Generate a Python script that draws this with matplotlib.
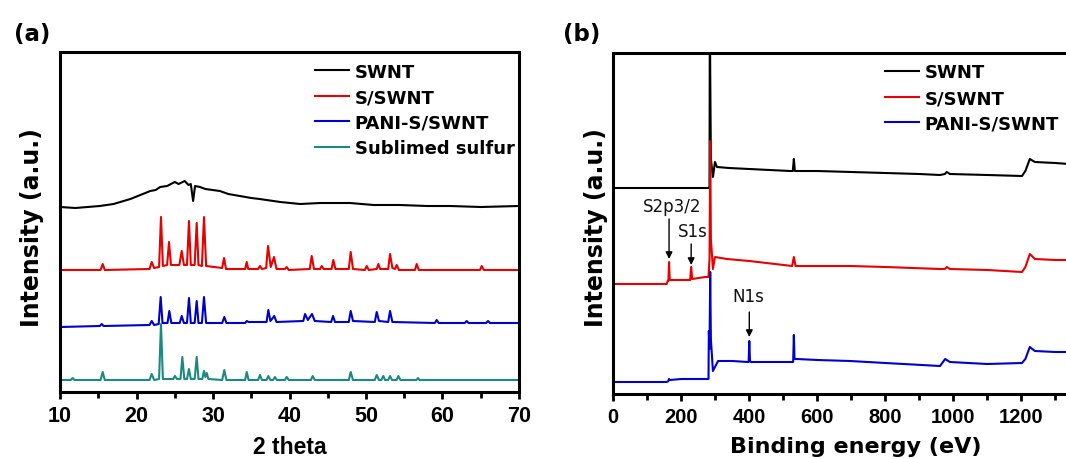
import matplotlib
matplotlib.use("Agg")
import matplotlib.pyplot as plt
from matplotlib.ticker import MultipleLocator, FixedLocator

plt.rcParams['font.family'] = ['Liberation Sans', 'DejaVu Sans']
plt.rcParams['font.weight'] = 'bold'

# ---------------- Panel (a): XRD ----------------
xrd_labels = ["SWNT", "S/SWNT", "PANI-S/SWNT", "Sublimed sulfur"]
xrd_colors = ["#000000", "#e60000", "#0000cc", "#1a8a80"]

swnt_x = [10.0, 12.0, 15.2, 17.0, 19.2, 20.5, 21.8, 22.5, 23.1, 24.0, 25.0, 25.5, 26.3, 26.8,
          27.1, 27.4, 27.65, 28.3, 29.0, 30.9, 32.0, 33.5, 35.0, 36.1, 38.8, 41.4, 44.0,
          47.9, 51.0, 54.4, 58.0, 61.0, 65.0, 70.0]
swnt_y = [192, 191, 193, 195, 200, 204, 208, 209, 212, 213, 217, 215, 218, 214,
          215, 198, 213, 212, 210, 208, 205, 203, 201, 200, 197, 195, 196,
          196, 194, 194, 193, 193, 192, 193]

s_swnt_x = [10, 15.3, 15.58, 15.85, 21.7, 21.99, 22.3, 22.95, 23.2, 23.45, 24.0, 24.25, 24.5,
            25.6, 25.91, 26.2, 26.6, 26.86, 27.1, 27.6, 27.87, 28.1, 28.55, 28.82, 29.1,
            31.2, 31.44, 31.7, 34.2, 34.41, 34.6, 35.9, 36.14, 36.4, 36.95, 37.19, 37.55,
            37.97, 38.3, 39.4, 39.63, 39.9, 42.65, 42.9, 43.2, 44.0, 44.21, 44.45, 45.5,
            45.73, 46.0, 47.75, 48.0, 48.3, 49.85, 50.09, 50.35, 51.4, 51.61, 51.85, 52.9,
            53.14, 53.45, 53.8, 54.01, 54.3, 56.4, 56.63, 56.9, 64.9, 65.12, 65.4, 70]
s_swnt_y = [129, 129, 135, 129, 130, 137, 131, 132, 182, 133, 134, 157, 134,
            134, 148, 134, 134, 178, 134, 134, 176, 134, 133, 182, 133,
            131, 141, 130, 130, 137, 130, 130, 133, 130, 131, 153, 132,
            142, 130, 130, 132, 129, 130, 143, 130, 130, 133, 130, 130,
            139, 130, 130, 147, 130, 129, 133, 129, 130, 135, 130, 130,
            145, 131, 130, 134, 129, 129, 135, 129, 129, 133, 129, 129]

pani_x = [10, 15.2, 15.45, 15.7, 21.7, 21.99, 22.3, 22.9, 23.16, 23.4, 24.05, 24.29, 24.55,
          25.65, 25.91, 26.2, 26.6, 26.86, 27.1, 27.6, 27.87, 28.1, 28.55, 28.82, 29.1,
          31.2, 31.48, 31.75, 34.2, 34.41, 34.65, 37.0, 37.23, 37.5, 38.01, 38.3, 41.8,
          42.03, 42.4, 42.94, 43.3, 45.45, 45.69, 45.95, 47.75, 48.0, 48.3, 51.15, 51.4,
          51.7, 52.9, 53.14, 53.45, 59.0, 59.24, 59.5, 62.9, 63.16, 63.4, 65.7, 65.95,
          66.2, 70]
pani_y = [72, 73, 75, 73, 74, 78, 74, 75, 102, 76, 76, 88, 76,
          76, 83, 76, 76, 101, 76, 76, 98, 76, 76, 102, 76,
          76, 82, 76, 76, 78, 77, 77, 89, 78, 83, 77, 78,
          85, 79, 85, 78, 77, 83, 77, 77, 88, 78, 77, 87,
          78, 77, 88, 77, 76, 79, 76, 76, 78, 76, 76, 78,
          76, 76]

sulfur_x = [10, 11.4, 11.66, 11.9, 15.3, 15.58, 15.85, 21.7, 21.99, 22.3, 22.95, 23.2, 23.45,
            24.8, 25.03, 25.3, 25.75, 25.99, 26.25, 26.6, 26.86, 27.1, 27.6, 27.87, 28.1,
            28.6, 28.82, 29.0, 29.18, 29.4, 31.2, 31.48, 31.75, 34.2, 34.41, 34.65, 35.9,
            36.14, 36.4, 37.0, 37.23, 37.5, 37.85, 38.1, 38.35, 39.4, 39.63, 39.9, 42.8,
            43.03, 43.3, 47.75, 48.0, 48.3, 51.15, 51.4, 51.7, 52.0, 52.26, 52.5, 52.9,
            53.14, 53.4, 54.0, 54.23, 54.5, 56.6, 56.8, 57.0, 70]
sulfur_y = [19, 19, 21, 19, 19, 27, 19, 19, 25, 19, 20, 75, 20,
            20, 23, 20, 20, 42, 20, 20, 30, 20, 20, 42, 20,
            20, 28, 22, 26, 20, 19, 29, 19, 19, 27, 19, 19,
            24, 19, 19, 23, 19, 19, 22, 19, 19, 22, 19, 19,
            23, 19, 19, 27, 19, 19, 24, 19, 19, 23, 19, 19,
            23, 19, 19, 23, 19, 19, 21, 19, 19]

xrd_x = [swnt_x, s_swnt_x, pani_x, sulfur_x]
xrd_y = [swnt_y, s_swnt_y, pani_y, sulfur_y]
xrd_ticks = [10, 20, 30, 40, 50, 60, 70]

# ---------------- Panel (b): XPS ----------------
xps_labels = ["SWNT", "S/SWNT", "PANI-S/SWNT"]
xps_colors = ["#000000", "#e60000", "#0000cc"]

xps_swnt_x = [0, 150, 280, 283, 284, 285, 287, 293, 299, 305, 340, 400, 520, 528, 531, 534,
              600, 700, 800, 900, 961, 975, 981, 990, 1100, 1202, 1212, 1225, 1240, 1300, 1340]
xps_swnt_y = [211, 211, 211, 212, 420, 330, 240, 222, 237, 232, 231, 230, 228, 228, 240, 228,
              228, 227, 226, 225, 224, 225, 227, 225, 224, 223, 228, 240, 237, 236, 235]

xps_s_x = [0, 157, 160, 162, 164, 166, 200, 226, 229, 232, 270, 280, 283, 285, 287, 293, 299,
           334, 400, 526, 531, 536, 696, 800, 961, 975, 981, 990, 1100, 1202, 1212, 1225, 1240,
           1300, 1340]
xps_s_y = [115, 115, 118, 118, 137, 119, 119, 119, 132, 120, 122, 122, 140, 258, 160, 130, 142,
           140, 138, 133, 142, 133, 133, 132, 130, 130, 132, 130, 129, 127, 132, 145, 140,
           139, 139]

xps_pani_x = [0, 157, 162, 164, 166, 200, 280, 281, 283, 285, 287, 293, 308, 350, 395, 398,
              400, 402, 405, 500, 526, 529, 531, 533, 540, 600, 696, 800, 961, 976, 990, 1100,
              1202, 1212, 1225, 1240, 1300, 1340]
xps_pani_y = [17, 17, 18, 20, 19, 20, 20, 68, 50, 127, 60, 28, 38, 38, 37, 37,
              58, 38, 37, 37, 37, 37, 64, 40, 40, 39, 38, 36, 33, 40, 37, 35,
              36, 40, 52, 48, 47, 47]

xps_x = [xps_swnt_x, xps_s_x, xps_pani_x]
xps_y = [xps_swnt_y, xps_s_y, xps_pani_y]
xps_ticks = [0, 200, 400, 600, 800, 1000, 1200]
xps_minor = [100, 300, 500, 700, 900, 1100, 1300]

peak_labels = ["S2p3/2", "S1s", "N1s"]
peak_energy = [164, 229, 400]
peak_tip = [140, 134, 62]
peak_tail = [180, 155, 87]
peak_text_y = [193, 168, 103]
peak_text_x = [173, 233, 396]

# ---------------- Figure ----------------
W, H = 1066, 460
fig = plt.figure(figsize=(W / 100, H / 100), dpi=100)

ax1 = fig.add_axes([60 / W, (H - 393) / H, 459 / W, 340 / H])
ax2 = fig.add_axes([613.3 / W, (H - 395) / H, 476 / W, 341 / H])

for xs, ys, c, lab in zip(xrd_x, xrd_y, xrd_colors, xrd_labels):
    ax1.plot(xs, ys, color=c, lw=1.5, label=lab)
ax1.set_xlim(10, 70)
ax1.set_ylim(7, 347)

for xs, ys, c, lab in zip(xps_x, xps_y, xps_colors, xps_labels):
    ax2.plot(xs, ys, color=c, lw=1.5, label=lab)
ax2.set_xlim(0, 1400)
ax2.set_ylim(5, 346)

for e, tip, tail, ty, tx, lab in zip(peak_energy, peak_tip, peak_tail, peak_text_y,
                                     peak_text_x, peak_labels):
    ax2.annotate("", xy=(e, tip), xytext=(e, tail),
                 arrowprops=dict(arrowstyle='-|>', color='black', lw=1.0,
                                 mutation_scale=10, shrinkA=0, shrinkB=0))
    ax2.text(tx, ty, lab, ha='center', va='center', fontsize=12,
             fontweight='normal', color='#111111', family=['DejaVu Sans'])

ax1.xaxis.set_major_locator(FixedLocator(xrd_ticks))
ax1.xaxis.set_minor_locator(MultipleLocator(5))
ax2.xaxis.set_major_locator(FixedLocator(xps_ticks))
ax2.xaxis.set_minor_locator(FixedLocator(xps_minor))

for ax in (ax1, ax2):
    for sp in ax.spines.values():
        sp.set_linewidth(2.2)
    ax.set_yticks([])
    ax.tick_params(axis='x', which='major', direction='out', length=5, width=2,
                   pad=4.5, top=False)
    ax.tick_params(axis='x', which='minor', direction='out', length=4, width=2,
                   top=False)

for lbl in ax1.get_xticklabels():
    lbl.set_fontsize(15.5)
    lbl.set_family(['Liberation Sans', 'DejaVu Sans'])
for lbl in ax2.get_xticklabels():
    lbl.set_fontsize(14.5)
    lbl.set_family(['Liberation Sans Narrow', 'Liberation Sans', 'DejaVu Sans'])

ylab_kw = dict(fontsize=17, fontweight='bold', family=['DejaVu Sans'])
ax1.set_ylabel("Intensity (a.u.)", **ylab_kw)
ax2.set_ylabel("Intensity (a.u.)", **ylab_kw)
ax1.yaxis.label.set_va('center')
ax2.yaxis.label.set_va('center')
ax1.yaxis.set_label_coords((32 - 60) / 459, 0.487)
ax2.yaxis.set_label_coords((596 - 613.3) / 476, 0.49)

ax1.set_xlabel("2 theta", fontsize=16.5, fontweight='bold')
ax2.set_xlabel("Binding energy (eV)", fontsize=16, fontweight='bold', family=['DejaVu Sans'])
ax1.xaxis.label.set_va('center')
ax2.xaxis.label.set_va('center')
ax1.xaxis.set_label_coords(0.5, -(448 - 393) / 340)
ax2.xaxis.set_label_coords((856 - 613.3) / 476, -(447 - 395) / 341)

leg_kw = dict(frameon=False, handlelength=1.9, handletextpad=0.3,
              labelspacing=0.42, borderpad=0, borderaxespad=0, loc='upper left',
              bbox_transform=fig.transFigure,
              prop=dict(family='DejaVu Sans', weight='bold', size=13))
ax1.legend(bbox_to_anchor=(315 / W, (H - 63.5) / H), **leg_kw)
ax2.legend(bbox_to_anchor=(885 / W, (H - 64.5) / H), **leg_kw)

pan_kw = dict(fontsize=16.5, fontweight='bold', ha='center', va='center',
              family=['DejaVu Sans'])
fig.text(32 / W, (H - 35) / H, "(a)", **pan_kw)
fig.text(582 / W, (H - 35) / H, "(b)", **pan_kw)

fig.savefig("out.png", dpi=100)
